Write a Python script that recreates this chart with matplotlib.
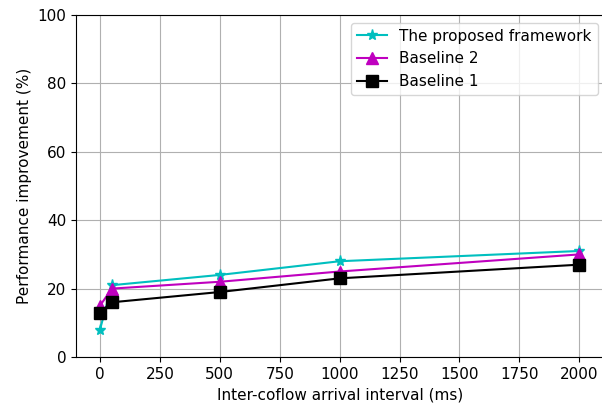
import matplotlib
matplotlib.use('Agg')
import matplotlib.pyplot as plt

interval = [0, 50, 500, 1000, 2000]
proposed = [8, 21, 24, 28, 31]
baseline2 = [15, 20, 22, 25, 30]
baseline1 = [13, 16, 19, 23, 27]

plt.rcParams['font.size'] = 11

fig = plt.figure(figsize=(6.02, 4.03), dpi=100)
ax = fig.add_axes([76 / 602, 1 - 357 / 403, (604.5 - 76) / 602, (357 - 15) / 403])

ax.plot(interval, proposed, color='c', marker='*', markersize=8, label='The proposed framework')
ax.plot(interval, baseline2, color='m', marker='^', markersize=8, label='Baseline 2')
ax.plot(interval, baseline1, color='k', marker='s', markersize=8, label='Baseline 1')

ax.set_xlim(-100, 2105)
ax.set_ylim(0, 100)
ax.set_xticks([0, 250, 500, 750, 1000, 1250, 1500, 1750, 2000])
ax.set_xlabel('Inter-coflow arrival interval (ms)')
ax.set_ylabel('Performance improvement (%)')
ax.grid(True)
ax.legend(loc='upper right', bbox_to_anchor=(1.002, 1.0))

fig.savefig('out.png', dpi=100)
